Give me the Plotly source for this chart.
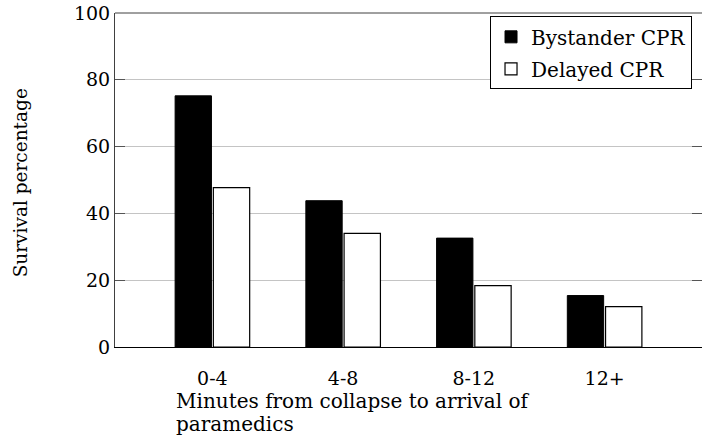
import plotly.graph_objects as go

categories = ["0-4", "4-8", "8-12", "12+"]
bystander_cpr = [75.2, 43.8, 32.6, 15.4]
delayed_cpr = [47.7, 34.0, 18.4, 12.1]
y_ticks = [0, 20, 40, 60, 80, 100]

FONT = "DejaVu Serif"

fig = go.Figure()
fig.add_trace(go.Bar(
    x=categories, y=bystander_cpr, name="Bystander CPR",
    marker=dict(color="black", line=dict(color="black", width=1)),
    legendgroup="a",
))
fig.add_trace(go.Bar(
    x=categories, y=delayed_cpr, name="Delayed CPR",
    marker=dict(color="white", line=dict(color="black", width=1.2)),
    legendgroup="b",
))

fig.update_layout(
    width=702, height=441,
    margin=dict(l=115, r=0, t=13, b=94),
    paper_bgcolor="white", plot_bgcolor="white",
    barmode="group", bargap=0.415, bargroupgap=0.05,
    font=dict(family=FONT, size=19, color="black"),
    showlegend=True,
    legend=dict(
        x=0.983, y=0.99, xanchor="right", yanchor="top",
        bordercolor="black", borderwidth=1, bgcolor="white",
        font=dict(family=FONT, size=20),
        tracegroupgap=3,
    ),
    xaxis=dict(
        type="category", range=[-0.745, 3.745],
        showline=True, linecolor="black", linewidth=1,
        showgrid=False, ticks="", ticklabelstandoff=14,
        tickfont=dict(size=19),
    ),
    yaxis=dict(
        range=[0, 100], tickvals=y_ticks,
        showline=True, linecolor="#404040", linewidth=1,
        mirror="ticks",
        showgrid=True, gridcolor="#c4c4c4", gridwidth=1,
        ticks="inside", ticklen=10, tickcolor="#555555", tickwidth=1,
        ticklabelstandoff=0, zeroline=False,
        tickfont=dict(size=19),
    ),
    shapes=[dict(type="line", xref="paper", yref="paper", x0=0, x1=1, y0=1, y1=1,
                 line=dict(color="#404040", width=1))],
    annotations=[
        dict(text="Minutes from collapse to arrival of", xref="paper", yref="paper",
             x=0, xshift=59, xanchor="left", y=0, yshift=-54, yanchor="middle",
             showarrow=False, font=dict(size=20)),
        dict(text="paramedics", xref="paper", yref="paper",
             x=0, xshift=59, xanchor="left", y=0, yshift=-77, yanchor="middle",
             showarrow=False, font=dict(size=20)),
        dict(text="Survival percentage", xref="paper", yref="paper",
             x=0, xshift=-95, xanchor="center", y=0.49, yanchor="middle",
             textangle=-90, showarrow=False, font=dict(size=18.5)),
    ],
)

fig.write_html(
    "out.html",
    config={"displayModeBar": False},
    post_script="document.body.style.margin='0';document.body.style.padding='0';document.body.style.overflow='hidden';",
)
